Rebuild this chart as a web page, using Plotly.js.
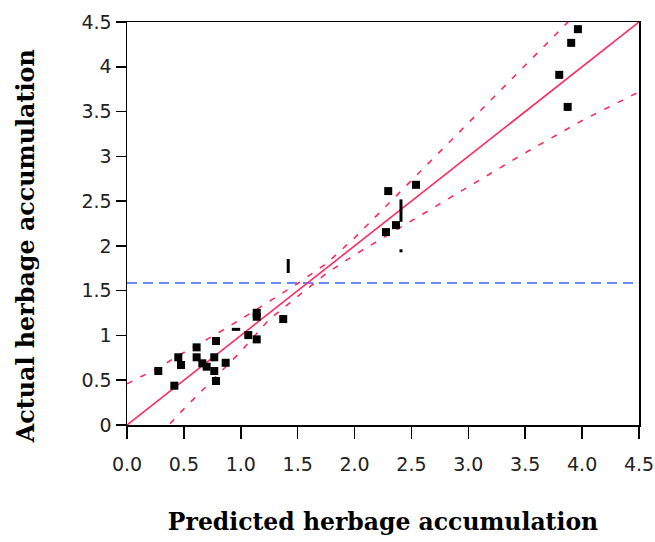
<!DOCTYPE html>
<html>
<head>
<meta charset="utf-8">
<script src="https://cdn.plot.ly/plotly-3.0.1.min.js"></script>
<style>
  html, body { margin: 0; padding: 0; background: #fff; }
  #chart { width: 655px; height: 542px; }
</style>
</head>
<body>
<div id="chart"></div>
<script>
// Observed vs. predicted herbage accumulation
const obsPredicted = [0.275, 0.416, 0.451, 0.475, 0.612, 0.612, 0.662, 0.700, 0.767, 0.782,
                      0.767, 0.782, 0.867, 0.958, 1.066, 1.140, 1.140, 1.140, 1.373, 1.417,
                      2.296, 2.540, 2.408, 2.364, 2.276, 2.408, 3.963, 3.904, 3.799, 3.873];
const obsActual    = [0.603, 0.439, 0.756, 0.670, 0.867, 0.756, 0.689, 0.651, 0.756, 0.938,
                      0.603, 0.491, 0.695, 1.068, 1.004, 0.956, 1.253, 1.209, 1.183, 1.775,
                      2.612, 2.682, 2.394, 2.232, 2.154, 1.945, 4.420, 4.267, 3.910, 3.552];

// Fitted line (actual = predicted)
const fitX = [0, 4.5];
const fitY = [0, 4.5];

// Confidence curves around the fit
const upperX = [0, 0.25, 0.5, 0.75, 1.0, 1.25, 1.5, 1.75, 2.0, 2.5, 3.0, 3.5, 4.0];
const upperY = [0.46, 0.62, 0.81, 0.99, 1.18, 1.38, 1.58, 1.80, 2.09, 2.73, 3.37, 4.02, 4.66];
const lowerX = [0, 0.25, 0.5, 0.75, 1.0, 1.25, 1.5, 1.75, 2.0, 2.5, 3.0, 3.5, 4.0, 4.5];
const lowerY = [-0.45, -0.16, 0.18, 0.50, 0.82, 1.18, 1.44, 1.69, 1.90, 2.28, 2.66, 3.04, 3.40, 3.72];

// Mean of the actual values
const meanX = [0, 4.5];
const meanY = [1.585, 1.585];

const xTicks = [0, 0.5, 1, 1.5, 2, 2.5, 3, 3.5, 4, 4.5];
const yTicks = [0, 0.5, 1, 1.5, 2, 2.5, 3, 3.5, 4, 4.5];

const RED = '#ff2a5f';
const BLUE = '#3366ff';

// Marker shapes: overlapping points render as thin bars
const symbols = obsPredicted.map(() => 'square');
const sizes = obsPredicted.map(() => 8);
symbols[13] = 'line-ew'; sizes[13] = 6;
symbols[19] = 'line-ns'; sizes[19] = 10;
symbols[22] = 'line-ns'; sizes[22] = 16;
sizes[25] = 3;

const traces = [
  { x: meanX, y: meanY, mode: 'lines', line: { color: BLUE, width: 1.5, dash: '10px,6px' }, hoverinfo: 'skip' },
  { x: upperX, y: upperY, mode: 'lines', line: { color: RED, width: 1.6, dash: '6px,9px' }, hoverinfo: 'skip' },
  { x: lowerX, y: lowerY, mode: 'lines', line: { color: RED, width: 1.6, dash: '6px,9px' }, hoverinfo: 'skip' },
  { x: fitX, y: fitY, mode: 'lines', line: { color: RED, width: 1.6 }, hoverinfo: 'skip' },
  {
    x: obsPredicted, y: obsActual, mode: 'markers',
    marker: {
      symbol: symbols, size: sizes, color: '#000', opacity: 1,
      // line-* symbols need their stroke; squares keep a zero-width outline
      line: { color: '#000', width: symbols.map(s => s.startsWith('line') ? 3 : 0) }
    }
  }
];

const tickFont = { family: 'DejaVu Sans', size: 19, color: '#222' };
const titleFont = { family: 'DejaVu Serif', size: 23.5, color: '#000', weight: 'bold' };

const layout = {
  width: 655, height: 542,
  margin: { l: 127, r: 16, t: 22, b: 117 },
  paper_bgcolor: '#fff', plot_bgcolor: '#fff',
  showlegend: false,
  xaxis: {
    range: [0, 4.5], tickvals: xTicks, tickformat: '.1f',
    ticks: 'outside', ticklen: 12, tickwidth: 1.5, tickcolor: '#000',
    showline: true, linecolor: '#000', linewidth: 1.5, mirror: true,
    showgrid: false, zeroline: false, tickfont: tickFont, ticklabelstandoff: 10,
    title: { text: 'Predicted herbage accumulation', font: titleFont, standoff: 39 }
  },
  yaxis: {
    range: [0, 4.5], tickvals: yTicks,
    ticks: 'outside', ticklen: 10, tickwidth: 1.5, tickcolor: '#000',
    showline: true, linecolor: '#000', linewidth: 1.5, mirror: true,
    showgrid: false, zeroline: false, tickfont: tickFont
  },
  // vertical axis title, set a little below the middle of the axis
  annotations: [{
    text: 'Actual herbage accumulation', font: { ...titleFont, size: 23.8 },
    textangle: -90, showarrow: false,
    xref: 'paper', yref: 'paper', x: -0.197, y: 0.444,
    xanchor: 'center', yanchor: 'middle'
  }]
};

Plotly.newPlot('chart', traces, layout, { displayModeBar: false, staticPlot: true });
</script>
</body>
</html>
